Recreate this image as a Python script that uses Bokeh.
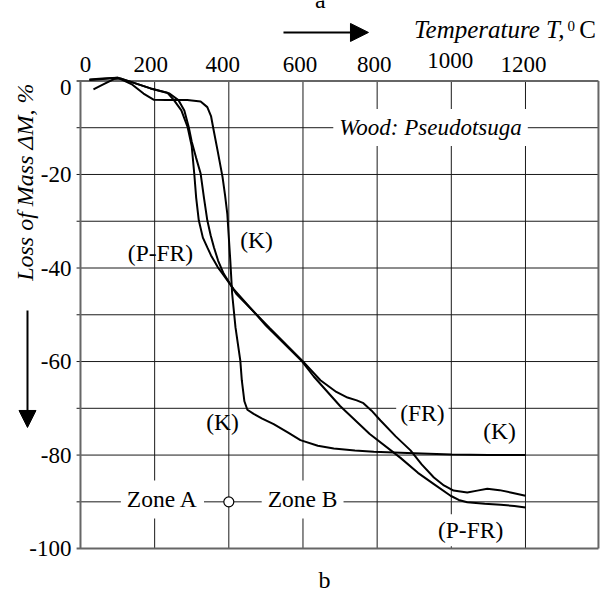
import math
from bokeh.plotting import figure
from bokeh.models import Range1d, Label, Arrow, NormalHead, ColumnDataSource
from bokeh.core.properties import value
from bokeh.embed import file_html
from bokeh.resources import INLINE

# ---- data -------------------------------------------------------------
T_TICKS = [0, 200, 400, 600, 800, 1000, 1200]
T_TICK_LABELS = ["0", "200", "400", "600", "800", "1000", "1200"]
M_TICKS = [0, -20, -40, -60, -80, -100]
M_TICK_LABELS = ["0", "-20", "-40", "-60", "-80", "-100"]
M_MINOR = [-10, -30, -50, -70, -90]

k_T = [24, 60, 100, 140, 170, 197, 230, 288, 324, 342, 352, 359, 370, 383, 390, 396,
       404, 409, 418, 431, 435, 442, 450, 467, 490, 521, 560, 593, 640, 683, 740, 791,
       900, 1000, 1100, 1200]
k_M = [0.3, 0.5, 0.7, -0.8, -2.7, -4.0, -4.1, -4.1, -4.4, -5.6, -7.5, -10.5, -15.0, -20.5,
       -24.5, -28.5, -38.4, -45.5, -52.7, -59.8, -64.0, -68.5, -70.3, -71.2, -72.2, -73.4,
       -75.2, -76.8, -78.0, -78.6, -79.0, -79.3, -79.6, -79.9, -80.0, -80.0]

fr_T = [35, 60, 90, 110, 140, 189, 240, 264, 280, 292, 300, 312, 324, 333, 342, 351, 360,
        371, 386, 420, 510, 598, 647, 690, 720, 745, 763, 785, 809, 850, 890, 920, 953,
        980, 1006, 1043, 1070, 1097, 1130, 1160, 1200]
fr_M = [-1.8, -0.8, 0.4, 0.5, -0.3, -1.6, -2.7, -4.1, -6.3, -9.9, -13.0, -16.5, -19.8,
        -25.0, -29.8, -33.0, -35.6, -38.4, -41.2, -45.5, -52.8, -59.8, -64.0, -66.5,
        -67.7, -68.3, -68.9, -70.5, -72.6, -76.0, -79.0, -82.0, -84.8, -86.5, -87.6,
        -88.0, -87.6, -87.2, -87.5, -88.0, -88.7]

pfr_T = [24, 60, 100, 140, 189, 234, 252, 272, 289, 300, 307, 312, 319, 330, 342, 352,
         360, 370, 383, 413, 500, 598, 629, 700, 780, 863, 910, 953, 998, 1020, 1043,
         1090, 1133, 1170, 1200]
pfr_M = [0.2, 0.4, 0.7, -0.3, -1.6, -2.5, -4.1, -6.3, -9.9, -14.0, -20.0, -25.0, -29.8,
         -33.5, -35.6, -37.3, -38.4, -39.8, -41.2, -44.5, -52.3, -60.0, -63.2, -69.5,
         -75.5, -80.6, -83.8, -86.2, -88.7, -89.6, -90.1, -90.4, -90.6, -90.9, -91.2]

ZONE_T = [400]
ZONE_M = [-90]

# ---- frame geometry (data units) --------------------------------------
X_LEFT, X_RIGHT = -215.7, 1413.1      # whole canvas
Y_BOTTOM_C, Y_TOP_C = -109.6, 17.2
X_BORDER = 1396.8                     # right frame line
Y_TOP, Y_BOTTOM = 0, -100
STUB = -10.5                          # tick stubs left of the axis

FONT = "Liberation Serif"

p = figure(width=604, height=593, output_backend="svg", toolbar_location=None,
           x_range=Range1d(X_LEFT, X_RIGHT), y_range=Range1d(Y_BOTTOM_C, Y_TOP_C),
           x_axis_type=None, y_axis_type=None, title=None,
           min_border_left=0, min_border_right=0, min_border_top=0, min_border_bottom=0)
p.outline_line_color = None
p.background_fill_color = "white"
p.border_fill_color = "white"

# grid lines
vx = T_TICKS[1:]
p.segment(x0=vx, y0=[Y_BOTTOM] * len(vx), x1=vx, y1=[Y_TOP] * len(vx),
          line_color="#1a1a1a", line_width=1)
hy = M_TICKS[1:-1] + M_MINOR
p.segment(x0=[STUB] * len(hy), y0=hy, x1=[X_BORDER] * len(hy), y1=hy,
          line_color="#1a1a1a", line_width=1)
# frame
p.segment(x0=[STUB, STUB, 0, X_BORDER], y0=[Y_TOP, Y_BOTTOM, Y_BOTTOM, Y_BOTTOM],
          x1=[X_BORDER, X_BORDER, 0, X_BORDER], y1=[Y_TOP, Y_BOTTOM, Y_TOP, Y_TOP],
          line_color="#666666", line_width=2)

# tick labels (small pixel nudges as in the original typesetting)
top_src = ColumnDataSource(dict(x=T_TICKS, text=T_TICK_LABELS,
                                dx=[5, -4, -6, -3, -3, -1, -2],
                                dy=[0, 0, 0, 0, 0, -4, 0]))
p.text(x="x", y=3.5, text="text", x_offset="dx", y_offset="dy", source=top_src,
       text_font=value(FONT), text_font_size="23px", text_align="center",
       text_baseline="middle", text_color="black")
left_src = ColumnDataSource(dict(y=M_TICKS, text=M_TICK_LABELS,
                                 dy=[7 if t == 0 else 0 for t in M_TICKS]))
p.text(x=-24.3, y="y", text="text", y_offset="dy", source=left_src,
       text_font=value(FONT), text_font_size="23px", text_align="right",
       text_baseline="middle", text_color="black")

# curves
for xs, ys in ((k_T, k_M), (fr_T, fr_M), (pfr_T, pfr_M)):
    p.line(xs, ys, line_color="black", line_width=2)

p.scatter(ZONE_T, ZONE_M, size=10, fill_color="white", line_color="black", line_width=1.2)


def lab(x, y, text, size="23.5px", style="normal", bg=None, align="center",
        angle=0, pad=0):
    kw = dict(x=x, y=y, text=text, text_font=FONT, text_font_size=size,
              text_font_style=style, text_align=align, text_baseline="middle",
              text_color="black", angle=angle)
    if bg:
        kw.update(background_fill_color=bg, padding=pad)
    p.add_layout(Label(**kw))


# in-plot labels
lab(215.7, -36.7, "(P-FR)")
lab(474.6, -34.1, "(K)")
lab(383, -73.0, "(K)")
lab(922, -70.9, "(FR)", bg="white", pad=4)
lab(1130, -74.8, "(K)")
lab(1052, -96.1, "(P-FR)", bg="white", pad=3)
lab(221, -89.5, "Zone A", bg="white", pad=6)
lab(599, -89.5, "Zone B", bg="white", pad=6)
lab(944, -9.95, "Wood: Pseudotsuga", size="23px", style="italic", bg="white", pad=6)

# outside texts
lab(647, 17.4, "a", size="24px")
lab(658, -106.8, "b", size="24px")
lab(1305, 10.9, "Temperature T,", size="25px", style="italic", align="right")
lab(1313, 11.7, "0", size="15px", align="left")
lab(1345, 10.9, "C", size="25px", align="left")
lab(-148.3, -21.0, "Loss of Mass  \u0394M, %", size="24px", style="italic",
    angle=math.pi / 2)

p.add_layout(Arrow(end=NormalHead(size=18, fill_color="black", line_color="black"),
                   x_start=547.4, y_start=10.37, x_end=776.6, y_end=10.37,
                   line_width=2, line_color="black"))
p.add_layout(Arrow(end=NormalHead(size=17, fill_color="black", line_color="black"),
                   x_start=-142.9, y_start=-49.1, x_end=-142.9, y_end=-74.1,
                   line_width=2, line_color="black"))

open("out.html", "w").write(file_html(p, INLINE))
